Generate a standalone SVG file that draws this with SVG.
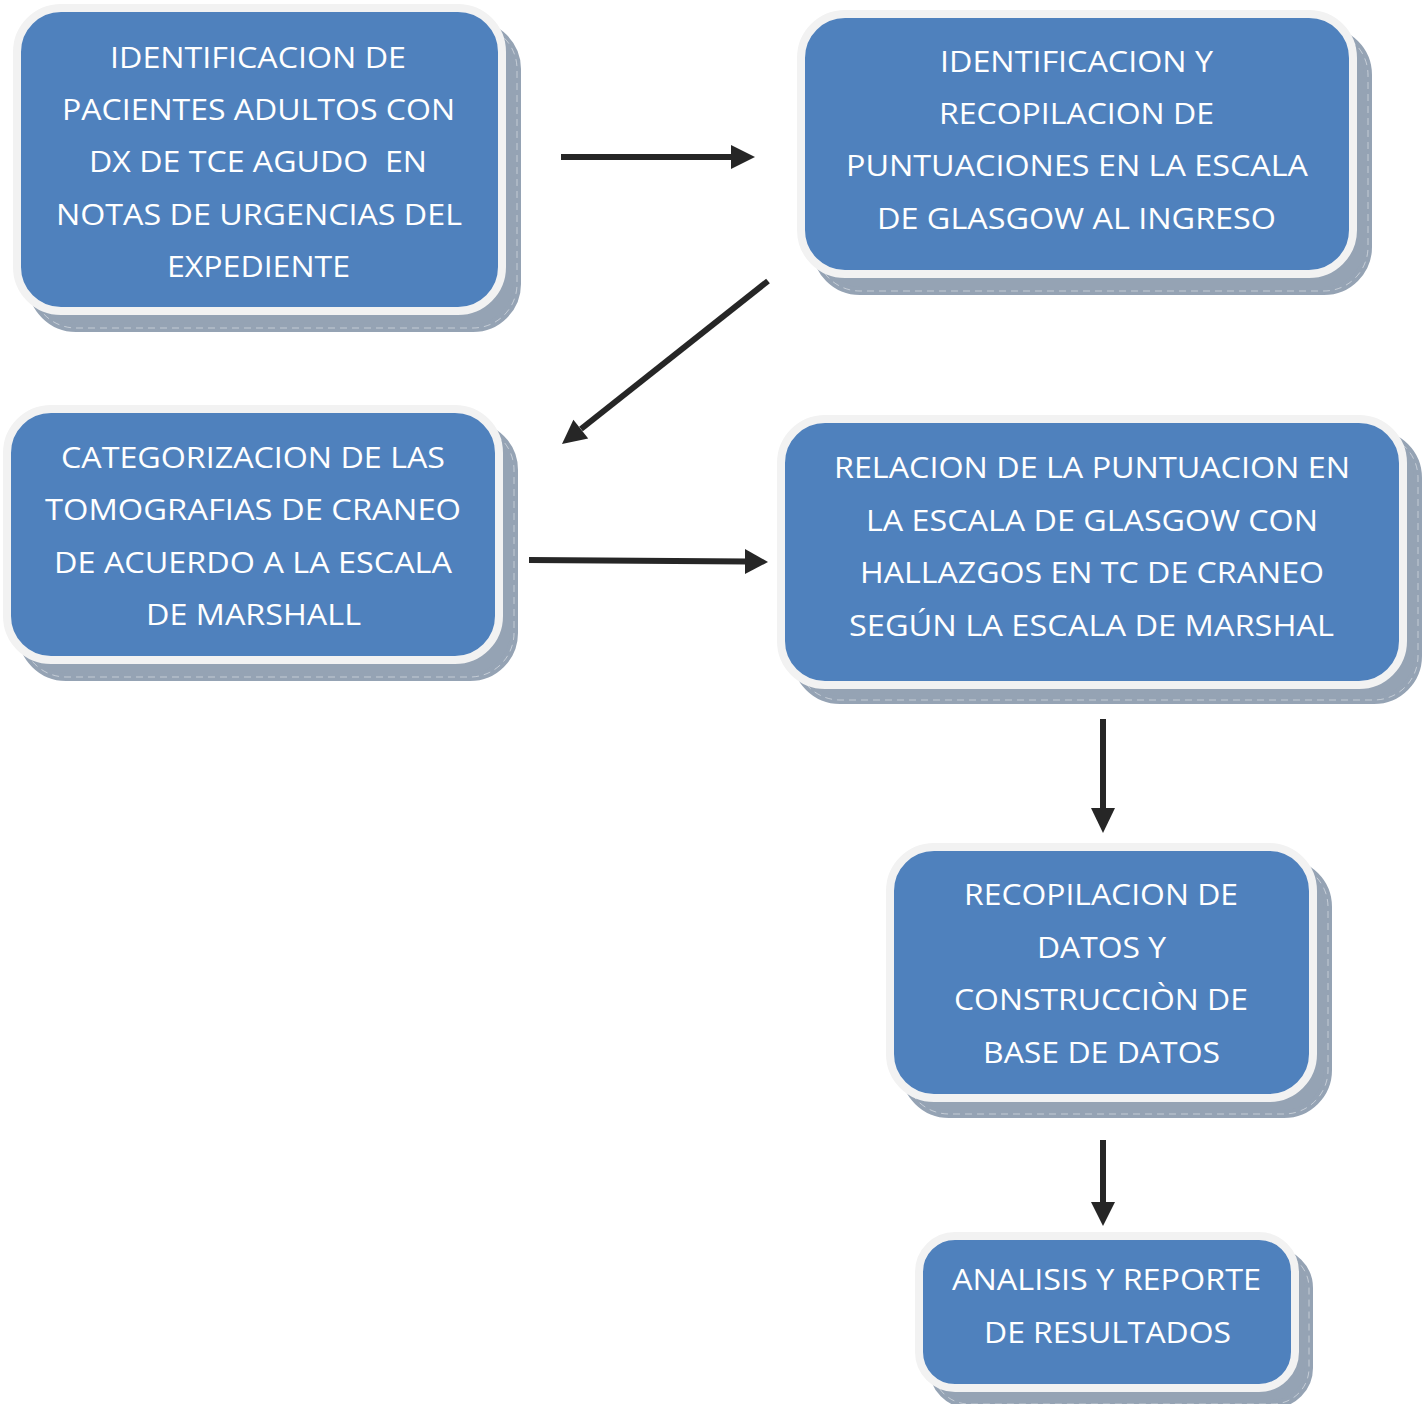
<svg xmlns="http://www.w3.org/2000/svg" width="1425" height="1404" viewBox="0 0 1425 1404">
<style>
.shadow{fill:#95A3B4;stroke:#95A3B4;stroke-width:8}
.sline{fill:none;stroke:#ffffff;stroke-width:1;stroke-dasharray:7 5;opacity:0.45}
.box{fill:#4F81BD;stroke:#F2F2F2;stroke-width:8}
.lbl{font-family:"Open Sans","Noto Sans",sans-serif;font-size:29px;fill:#ffffff;text-anchor:middle;white-space:pre}
.conn line{stroke:#262626;stroke-width:6}
.conn polygon{fill:#262626}
</style>
<rect width="1425" height="1404" fill="#ffffff"/>
<g id="n1">
<rect class="shadow" x="32" y="25" width="485" height="303" rx="44"/>
<rect class="sline" x="32" y="25" width="485" height="303" rx="44"/>
<rect class="box" x="17" y="8" width="485" height="303" rx="44"/>
<text class="lbl" x="258" y="68" textLength="296" lengthAdjust="spacingAndGlyphs">IDENTIFICACION DE</text>
<text class="lbl" x="258.5" y="120" textLength="393" lengthAdjust="spacingAndGlyphs">PACIENTES ADULTOS CON</text>
<text class="lbl" x="258" y="172" textLength="338" lengthAdjust="spacingAndGlyphs">DX DE TCE AGUDO  EN</text>
<text class="lbl" x="259" y="225" textLength="406" lengthAdjust="spacingAndGlyphs">NOTAS DE URGENCIAS DEL</text>
<text class="lbl" x="258.5" y="277" textLength="183" lengthAdjust="spacingAndGlyphs">EXPEDIENTE</text>
</g>
<g id="n2">
<rect class="shadow" x="816" y="31" width="552" height="260" rx="44"/>
<rect class="sline" x="816" y="31" width="552" height="260" rx="44"/>
<rect class="box" x="801" y="14" width="552" height="260" rx="44"/>
<text class="lbl" x="1076.5" y="72" textLength="273" lengthAdjust="spacingAndGlyphs">IDENTIFICACION Y</text>
<text class="lbl" x="1076.5" y="124" textLength="275" lengthAdjust="spacingAndGlyphs">RECOPILACION DE</text>
<text class="lbl" x="1077" y="176" textLength="462" lengthAdjust="spacingAndGlyphs">PUNTUACIONES EN LA ESCALA</text>
<text class="lbl" x="1076.5" y="229" textLength="399" lengthAdjust="spacingAndGlyphs">DE GLASGOW AL INGRESO</text>
</g>
<g id="n3">
<rect class="shadow" x="22" y="426" width="492" height="251" rx="44"/>
<rect class="sline" x="22" y="426" width="492" height="251" rx="44"/>
<rect class="box" x="7" y="409" width="492" height="251" rx="44"/>
<text class="lbl" x="253" y="468" textLength="384" lengthAdjust="spacingAndGlyphs">CATEGORIZACION DE LAS</text>
<text class="lbl" x="253" y="520" textLength="416" lengthAdjust="spacingAndGlyphs">TOMOGRAFIAS DE CRANEO</text>
<text class="lbl" x="253" y="573" textLength="398" lengthAdjust="spacingAndGlyphs">DE ACUERDO A LA ESCALA</text>
<text class="lbl" x="253.5" y="625" textLength="215" lengthAdjust="spacingAndGlyphs">DE MARSHALL</text>
</g>
<g id="n4">
<rect class="shadow" x="796" y="434" width="622" height="266" rx="44"/>
<rect class="sline" x="796" y="434" width="622" height="266" rx="44"/>
<rect class="box" x="781" y="419" width="622" height="266" rx="44"/>
<text class="lbl" x="1092" y="478" textLength="516" lengthAdjust="spacingAndGlyphs">RELACION DE LA PUNTUACION EN</text>
<text class="lbl" x="1092" y="531" textLength="452" lengthAdjust="spacingAndGlyphs">LA ESCALA DE GLASGOW CON</text>
<text class="lbl" x="1092" y="583" textLength="464" lengthAdjust="spacingAndGlyphs">HALLAZGOS EN TC DE CRANEO</text>
<text class="lbl" x="1091.5" y="636" textLength="485" lengthAdjust="spacingAndGlyphs">SEGÚN LA ESCALA DE MARSHAL</text>
</g>
<g id="n5">
<rect class="shadow" x="905" y="863" width="423" height="251" rx="44"/>
<rect class="sline" x="905" y="863" width="423" height="251" rx="44"/>
<rect class="box" x="890" y="847" width="423" height="251" rx="44"/>
<text class="lbl" x="1101" y="905" textLength="274" lengthAdjust="spacingAndGlyphs">RECOPILACION DE</text>
<text class="lbl" x="1101.5" y="958" textLength="129" lengthAdjust="spacingAndGlyphs">DATOS Y</text>
<text class="lbl" x="1101" y="1010" textLength="294" lengthAdjust="spacingAndGlyphs">CONSTRUCCIÒN DE</text>
<text class="lbl" x="1101.5" y="1063" textLength="237" lengthAdjust="spacingAndGlyphs">BASE DE DATOS</text>
</g>
<g id="n6">
<rect class="shadow" x="933" y="1252" width="376" height="152" rx="36"/>
<rect class="sline" x="933" y="1252" width="376" height="152" rx="36"/>
<rect class="box" x="919" y="1236" width="376" height="152" rx="36"/>
<text class="lbl" x="1106.5" y="1290" textLength="309" lengthAdjust="spacingAndGlyphs">ANALISIS Y REPORTE</text>
<text class="lbl" x="1107.5" y="1343" textLength="247" lengthAdjust="spacingAndGlyphs">DE RESULTADOS</text>
</g>
<g id="connectors" class="conn">
<line x1="561" y1="157" x2="733" y2="157"/>
<polygon points="731,145 755,157 731,169"/>
<line x1="768" y1="281" x2="581" y2="429"/>
<polygon points="588.2,438.5 562,444 573.4,419.7"/>
<line x1="529" y1="560" x2="747" y2="561.5"/>
<polygon points="745,549 768,562 745,574"/>
<line x1="1103" y1="719" x2="1103" y2="810"/>
<polygon points="1091,808 1103,833 1115,808"/>
<line x1="1103" y1="1140" x2="1103" y2="1204"/>
<polygon points="1091,1202 1103,1226 1115,1202"/>
</g>
</svg>
